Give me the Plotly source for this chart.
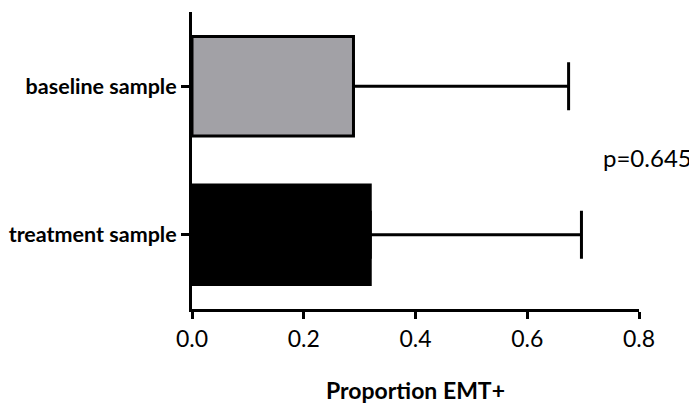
import plotly.graph_objects as go

categories = ["treatment sample", "baseline sample"]
values = [0.319, 0.289]
err_plus = [0.378, 0.385]
bar_colors = ["#000000", "#a2a1a6"]
x_ticks = [0.0, 0.2, 0.4, 0.6, 0.8]
x_tick_labels = ["0.0", "0.2", "0.4", "0.6", "0.8"]
p_text = "p=0.645"

FONT = "Lato"

fig = go.Figure()
fig.add_trace(go.Bar(
    y=categories, x=values, orientation="h",
    marker=dict(color=bar_colors, line=dict(color="black", width=3)),
    width=0.67,
    error_x=dict(type="data", symmetric=False, array=err_plus,
                 arrayminus=[0, 0], color="black", thickness=3, width=24),
    showlegend=False,
))

fig.add_annotation(x=0.7315, y=0.52, xref="x", yref="y", text=p_text,
                   showarrow=False, xanchor="left", yanchor="middle",
                   font=dict(family=FONT, size=24, color="black"))

# the page body adds an 8px offset, so the figure is sized to fit the window
fig.update_layout(
    width=689, height=397,
    margin=dict(l=184, r=58, t=4, b=96, autoexpand=False),
    plot_bgcolor="white", paper_bgcolor="white",
    xaxis=dict(
        range=[0, 0.8], tickvals=x_ticks, ticktext=x_tick_labels,
        showgrid=False, zeroline=False, automargin=False,
        showline=True, linecolor="black", linewidth=3,
        ticks="outside", ticklen=7, tickwidth=3, tickcolor="black",
        tickfont=dict(family=FONT, size=23, color="black"),
        title=dict(text="<b>Proportion EMT+</b>", standoff=33,
                   font=dict(family=FONT, size=23, color="black")),
    ),
    yaxis=dict(
        range=[-0.5, 1.5], categoryorder="array", categoryarray=categories,
        tickvals=categories,
        ticktext=["<b>" + c + "</b>" for c in categories],
        showgrid=False, zeroline=False, automargin=False,
        showline=True, linecolor="black", linewidth=3,
        ticks="outside", ticklen=8, tickwidth=3, tickcolor="black",
        tickfont=dict(family=FONT, size=21.5, color="black"),
        ticklabelstandoff=0,
    ),
)

fig.write_html("out.html")
